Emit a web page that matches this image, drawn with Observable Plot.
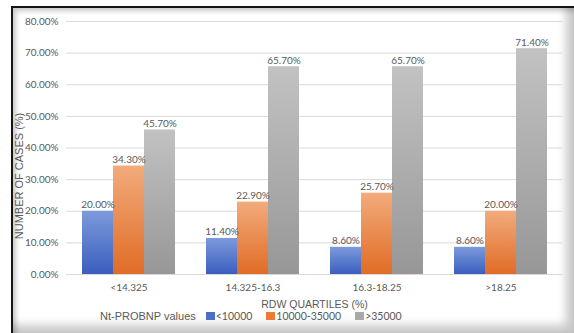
<!DOCTYPE html>
<html><head><meta charset="utf-8">
<script src="https://cdn.jsdelivr.net/npm/d3@7"></script>
<script src="https://cdn.jsdelivr.net/npm/@observablehq/plot@0.6"></script>
<style>
html,body{margin:0;padding:0;background:#fff;overflow:hidden}
#wrap{position:relative;width:574px;height:333px;overflow:hidden;background:#fff}
#frame{position:absolute;left:11px;top:6px;width:563px;height:327px;box-sizing:border-box;border-left:2px solid #151515;border-top:2px solid #151515;box-shadow:inset 3px 3px 5px rgba(0,0,0,0.22), inset -11px -11px 10px -3px rgba(0,0,0,0.22);}
.layer{position:absolute;left:0;top:0}
#legend{position:absolute;left:100px;top:308px;height:16px;display:flex;align-items:center;color:#595959;white-space:nowrap}
#legend .title{font-family:"Liberation Sans",Arial,sans-serif;font-size:11px;margin-right:10px}
#legend .sw{width:9px;height:8px;margin-right:1px}
#legend .lab{font-family:Lato,sans-serif;font-size:10.5px;margin-right:14px}
</style></head>
<body><div id="wrap"><div id="frame"></div><div id="bg" class="layer"></div><div id="chart" class="layer"></div><div id="legend"></div></div>
<script>
const categories = ["<14.325", "14.325-16.3", "16.3-18.25", ">18.25"];
const series = ["<10000", "10000-35000", ">35000"];
const low = [20.0, 11.4, 8.6, 8.6];
const mid = [34.3, 22.9, 25.7, 20.0];
const high = [45.7, 65.7, 65.7, 71.4];
const yTicks = [0, 0.1, 0.2, 0.3, 0.4, 0.5, 0.6, 0.7, 0.8];
const legendTitle = "Nt-PROBNP values";
const xTitle = "RDW QUARTILES (%)";
const yTitle = "NUMBER OF CASES (%)";

const swatch = ["#4a6fc9", "#ea7a36", "#a9a9a9"];
const grads = [["gBlue", "#7c9adb", "#3b5ebe"], ["gOrange", "#f2ab7c", "#e06c26"], ["gGray", "#c2c2c2", "#979797"]];

const rows = [];
[low, mid, high].forEach((arr, si) => arr.forEach((v, ci) => rows.push({cat: categories[ci], series: series[si], value: v / 100})));

const pct = d3.format(".2%");
const txt = "#595959";
const common = {
  width: 574, height: 333,
  marginLeft: 66, marginRight: 12, marginTop: 21, marginBottom: 59,
  style: {fontFamily: "Lato, sans-serif", fontSize: "10px", color: txt, background: "transparent", overflow: "visible"},
  y: {domain: [0, 0.8], label: null, axis: null}
};

const bg = Plot.plot({
  ...common,
  marks: [
    Plot.ruleY(yTicks, {stroke: "#d9d9d9", strokeWidth: 1}),
    Plot.axisY(yTicks, {tickSize: 0, tickPadding: 8, tickFormat: pct, fill: txt, label: null}),
    Plot.text([yTitle], {frameAnchor: "left", textAnchor: "middle", lineAnchor: "middle", rotate: -90, dx: -47, dy: 28, fill: txt, fontFamily: "Liberation Sans, Arial, sans-serif", fontSize: 11}),
    Plot.text([xTitle], {frameAnchor: "bottom", dy: 33, fill: txt, fontFamily: "Liberation Sans, Arial, sans-serif", fontSize: 10.5})
  ]
});
document.getElementById("bg").appendChild(bg);

const svg = Plot.plot({
  ...common,
  fx: {domain: categories, paddingInner: 0.25, paddingOuter: 0.125, label: null},
  x: {domain: series, padding: 0, axis: null},
  color: {domain: series, range: grads.map(g => `url(#${g[0]})`)},
  marks: [
    Plot.axisFx({anchor: "bottom", tickSize: 0, tickPadding: 9, fill: txt, label: null}),
    Plot.barY(rows, {fx: "cat", x: "series", y: "value", fill: "series"}),
    Plot.text(rows, {fx: "cat", x: "series", y: "value", text: d => pct(d.value), lineAnchor: "bottom", dy: -3, fill: txt})
  ]
});

const defs = d3.select(svg).insert("defs", ":first-child");
grads.forEach(([id, top, bottom]) => {
  const g = defs.append("linearGradient").attr("id", id).attr("x1", 0).attr("y1", 0).attr("x2", 0).attr("y2", 1);
  g.append("stop").attr("offset", "0%").attr("stop-color", top);
  g.append("stop").attr("offset", "100%").attr("stop-color", bottom);
});
document.getElementById("chart").appendChild(svg);

const leg = d3.select("#legend");
leg.append("span").attr("class", "title").text(legendTitle);
series.forEach((s, i) => {
  leg.append("span").attr("class", "sw").style("background", swatch[i]);
  leg.append("span").attr("class", "lab").text(s);
});
</script></body></html>
